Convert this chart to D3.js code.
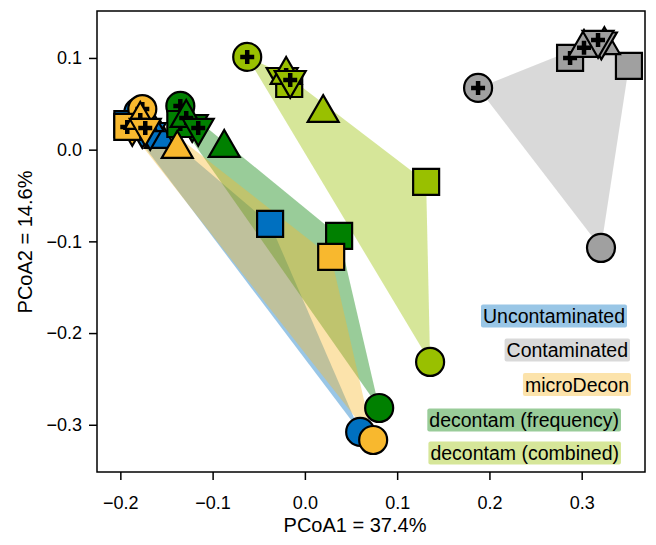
<!DOCTYPE html>
<html>
<head>
<meta charset="utf-8">
<script src="https://cdn.jsdelivr.net/npm/d3@7"></script>
<style>
  body { margin: 0; background: #fff; }
  text { font-family: Arial, "Liberation Sans", sans-serif; fill: #000; }
</style>
</head>
<body>
<div id="chart"></div>
<script>
// groups, drawing order and colours
var groups = ["Contaminated", "decontam (combined)", "Uncontaminated", "decontam (frequency)", "microDecon"];
var groupColors = {
    "Uncontaminated": "#0070C0",
    "Contaminated": "#A0A0A0",
    "microDecon": "#F8B82E",
    "decontam (frequency)": "#008000",
    "decontam (combined)": "#99C000"
};

// 8 samples per group: shape + whether it carries a cross
// (plain ones first so crossed markers sit on top)
var shapes = ["circle", "square", "triUp", "triDown", "circle", "square", "triUp", "triDown"];
var crossed = [0, 0, 0, 0, 1, 1, 1, 1];

// PCoA coordinates
var xUncontaminated = [0.0599, -0.0377, -0.1567, -0.1676, -0.1805, -0.1924, -0.1697, -0.1762];
var yUncontaminated = [-0.3078, -0.081, 0.0117, 0.0193, 0.041, 0.0279, 0.030, 0.0215];

var xContaminated = [0.3209, 0.3512, 0.3246, 0.3213, 0.1877, 0.2874, 0.3025, 0.3177];
var yContaminated = [-0.1072, 0.0913, 0.114, 0.118, 0.0673, 0.100, 0.111, 0.1197];

var xCombined = [0.1357, 0.1314, 0.0198, -0.0246, -0.0625, -0.0170, -0.0203, -0.0159];
var yCombined = [-0.2315, -0.0352, 0.040, 0.0793, 0.1011, 0.0716, 0.0815, 0.0760];

var xFrequency = [0.0805, 0.0371, -0.0874, -0.1221, -0.135, -0.135, -0.1286, -0.1156];
var yFrequency = [-0.2817, -0.0941, 0.0019, 0.028, 0.0477, 0.028, 0.0346, 0.0237];

var xMicroDecon = [0.074, 0.0285, -0.1383, -0.1871, -0.1762, -0.1925, -0.1784, -0.173];
var yMicroDecon = [-0.3166, -0.117, 0.0008, 0.0237, 0.0443, 0.0248, 0.0324, 0.0237];

var xTicks = [-0.2, -0.1, 0.0, 0.1, 0.2, 0.3];
var yTicks = [-0.3, -0.2, -0.1, 0.0, 0.1];

var legendLabels = ["Uncontaminated", "Contaminated", "microDecon", "decontam (frequency)", "decontam (combined)"];

var coords = {
    "Uncontaminated": [xUncontaminated, yUncontaminated],
    "Contaminated": [xContaminated, yContaminated],
    "microDecon": [xMicroDecon, yMicroDecon],
    "decontam (frequency)": [xFrequency, yFrequency],
    "decontam (combined)": [xCombined, yCombined]
};

var width = 656, height = 545;
var margin = {left: 97, right: 11, top: 11, bottom: 73};

var svg = d3.select("#chart").append("svg")
    .attr("width", width)
    .attr("height", height);

var x = d3.scaleLinear()
    .domain([-0.2253, 0.3686])
    .range([margin.left, width - margin.right]);

var y = d3.scaleLinear()
    .domain([-0.3515, 0.1512])
    .range([height - margin.bottom, margin.top]);

// build sample list
var samples = [];
groups.forEach(function(g){
    var xs = coords[g][0], ys = coords[g][1];
    xs.forEach(function(v, i){
        samples.push({group: g, x: v, y: ys[i], shape: shapes[i], cross: crossed[i]});
    });
});

// hulls
var hullLayer = svg.append("g");
groups.forEach(function(g){
    var pts = samples.filter(function(d){ return d.group === g; })
        .map(function(d){ return [x(d.x), y(d.y)]; });
    var hull = d3.polygonHull(pts);
    hullLayer.append("path")
        .attr("d", "M" + hull.join("L") + "Z")
        .attr("fill", groupColors[g])
        .attr("fill-opacity", 0.4)
        .attr("stroke", "none");
});

// markers
var symbolFor = {
    circle: d3.symbol().type(d3.symbolCircle).size(Math.PI * 14 * 14),
    square: d3.symbol().type(d3.symbolSquare).size(26 * 26),
    triUp: d3.symbol().type(d3.symbolTriangle).size(31 * 31 * Math.sqrt(3) / 4),
    triDown: d3.symbol().type(d3.symbolTriangle).size(31 * 31 * Math.sqrt(3) / 4)
};

var pointLayer = svg.append("g");
var pt = pointLayer.selectAll(".pt")
    .data(samples).enter().append("g")
    .attr("class", "pt")
    .attr("transform", function(d){
        return "translate(" + x(d.x) + "," + y(d.y) + ")" + (d.shape === "triDown" ? " rotate(180)" : "");
    });

pt.append("path")
    .attr("d", function(d){ return symbolFor[d.shape](); })
    .attr("fill", function(d){ return groupColors[d.group]; })
    .attr("stroke", "#000")
    .attr("stroke-width", 2.2)
    .attr("stroke-linejoin", "miter");

pt.filter(function(d){ return d.cross; })
    .append("path")
    .attr("d", "M-7,0H7M0,-7V7")
    .attr("stroke", "#000")
    .attr("stroke-width", 4.5);

// frame
svg.append("rect")
    .attr("x", margin.left)
    .attr("y", margin.top)
    .attr("width", width - margin.left - margin.right)
    .attr("height", height - margin.top - margin.bottom)
    .attr("fill", "none")
    .attr("stroke", "#000")
    .attr("stroke-width", 1.5);

// axes
var fmt = d3.format(".1f");
var xAxis = svg.append("g")
    .attr("transform", "translate(0," + (height - margin.bottom) + ")")
    .call(d3.axisBottom(x).tickValues(xTicks).tickFormat(fmt).tickSize(8).tickPadding(16));
var yAxis = svg.append("g")
    .attr("transform", "translate(" + margin.left + ",0)")
    .call(d3.axisLeft(y).tickValues(yTicks).tickFormat(fmt).tickSize(8).tickPadding(7));

[xAxis, yAxis].forEach(function(a){
    a.select(".domain").remove();
    a.selectAll(".tick line").attr("stroke", "#000").attr("stroke-width", 1.5);
    a.selectAll(".tick text").style("font-size", "18px")
        .style("font-family", "Arial, 'Liberation Sans', sans-serif");
});

svg.append("text")
    .attr("x", 355)
    .attr("y", 532)
    .attr("text-anchor", "middle")
    .style("font-size", "20px")
    .text("PCoA1 = 37.4%");

svg.append("text")
    .attr("transform", "translate(32,242) rotate(-90)")
    .attr("text-anchor", "middle")
    .style("font-size", "20px")
    .text("PCoA2 = 14.6%");

// legend: labels on tinted boxes
var legendRight = [627, 630, 631, 621, 621];
var legendMid = [316, 350, 384.5, 420, 453];
var legend = svg.append("g");
legendLabels.forEach(function(lab, i){
    var gl = legend.append("g");
    var rect = gl.append("rect");
    var t = gl.append("text")
        .attr("x", legendRight[i] - 2)
        .attr("y", legendMid[i] + 7)
        .attr("text-anchor", "end")
        .style("font-size", "19.5px")
        .text(lab);
    var bb = t.node().getBBox();
    rect.attr("x", bb.x - 2)
        .attr("y", legendMid[i] - 11.5)
        .attr("width", bb.width + 4)
        .attr("height", 23)
        .attr("rx", 2)
        .attr("fill", groupColors[lab])
        .attr("fill-opacity", 0.4);
});
</script>
</body>
</html>
